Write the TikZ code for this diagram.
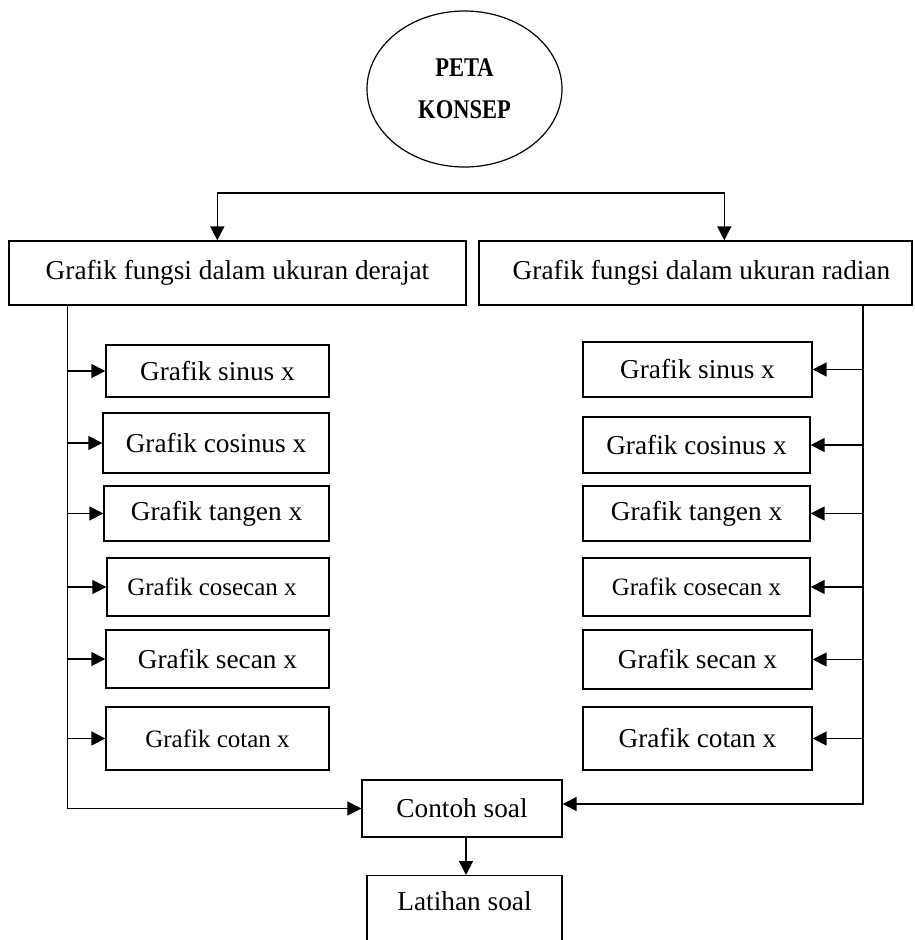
\documentclass[tikz,border=0pt]{standalone}
\usepackage{fontspec}
\usepackage{graphicx}
\setmainfont{Liberation Serif}
\usetikzlibrary{arrows.meta,calc,shapes.geometric}
\begin{document}
\begin{tikzpicture}[x=1pt,y=-1pt,
  box/.style={draw, line width=1.4pt, inner sep=0pt, font=\fontsize{27.3}{32}\selectfont},
  smallbox/.style={box, font=\fontsize{25}{30}\selectfont},
  arr/.style={line width=1.6pt, -{Triangle[length=14pt,width=14pt]}},
  arrboth/.style={line width=1.6pt, {Triangle[length=14pt,width=14pt]}-{Triangle[length=14pt,width=14pt]}}]
\useasboundingbox (0,0) rectangle (915,940);
% title ellipse
\node[draw, ellipse, line width=1.2pt, minimum width=195pt, minimum height=156pt, inner sep=0pt,
      align=center, font=\fontsize{22.5}{42}\selectfont\bfseries] (E) at (464.5,89)
      {\scalebox{1}[1.2]{PETA}\\\scalebox{1}[1.2]{KONSEP}};
% main boxes
\node[box, minimum width=457pt, minimum height=64pt] (L) at (237.5,273) {Grafik fungsi dalam ukuran derajat};
\node[box, minimum width=433pt, minimum height=64pt] (R) at (695.5,273) {\hspace*{12pt}Grafik fungsi dalam ukuran radian};
\coordinate (hub) at (464,193);
\draw[arrboth] ([xshift=209pt]L.north west) |- (hub) -| ([xshift=246pt]R.north west);
% left column
\node[box, minimum width=223pt, minimum height=52pt] (s1) at (217.5,371) {Grafik sinus x};
\node[box, minimum width=226pt, minimum height=60pt] (s2) at (216,443) {Grafik cosinus x};
\node[box, minimum width=225pt, minimum height=55pt] (s3) at (216.5,513.5) {Grafik tangen x};
\node[smallbox, minimum width=222pt, minimum height=58pt] (s4) at (218,587) {Grafik cosecan x\hspace*{12pt}};
\node[box, minimum width=223pt, minimum height=58pt] (s5) at (217.5,659) {Grafik secan x};
\node[smallbox, minimum width=223pt, minimum height=63pt] (s6) at (217.5,738.5) {Grafik cotan x};
% right column
\node[box, minimum width=229pt, minimum height=55pt] (r1) at (697.5,369.5) {Grafik sinus x};
\node[box, minimum width=227pt, minimum height=56pt] (r2) at (696.5,445) {Grafik cosinus x};
\node[box, minimum width=227pt, minimum height=55pt] (r3) at (696.5,513.5) {Grafik tangen x};
\node[smallbox, minimum width=227pt, minimum height=58pt] (r4) at (696.5,587) {Grafik cosecan x};
\node[box, minimum width=229pt, minimum height=59pt] (r5) at (697.5,659.5) {Grafik secan x};
\node[box, minimum width=229pt, minimum height=63pt] (r6) at (697.5,738.5) {Grafik cotan x};
% bottom boxes
\node[box, minimum width=200pt, minimum height=57pt] (C) at (462,808.5) {Contoh soal};
\node[box, anchor=north, minimum width=195pt, text height=18.4pt, text depth=60pt, inner ysep=16.6pt] (Lat) at (464.5,875) {Latihan soal};
% trunks
\coordinate (tl) at ([xshift=59pt]L.south west);
\coordinate (tr) at ([xshift=-50pt]R.south east);
\draw[arr] (tl) |- (C.west);
\draw[arr] (tr) |- ([yshift=4.5pt]C.east);
\foreach \n in {s1,s2,s3,s4,s5,s6} \draw[arr] (tl |- \n.west) -- (\n.west);
\foreach \n in {r1,r2,r3,r4,r5,r6} \draw[arr] (tr |- \n.east) -- (\n.east);
\draw[arr] ([xshift=4pt]C.south) -- ([xshift=4pt]C.south |- Lat.north);
\end{tikzpicture}
\end{document}
